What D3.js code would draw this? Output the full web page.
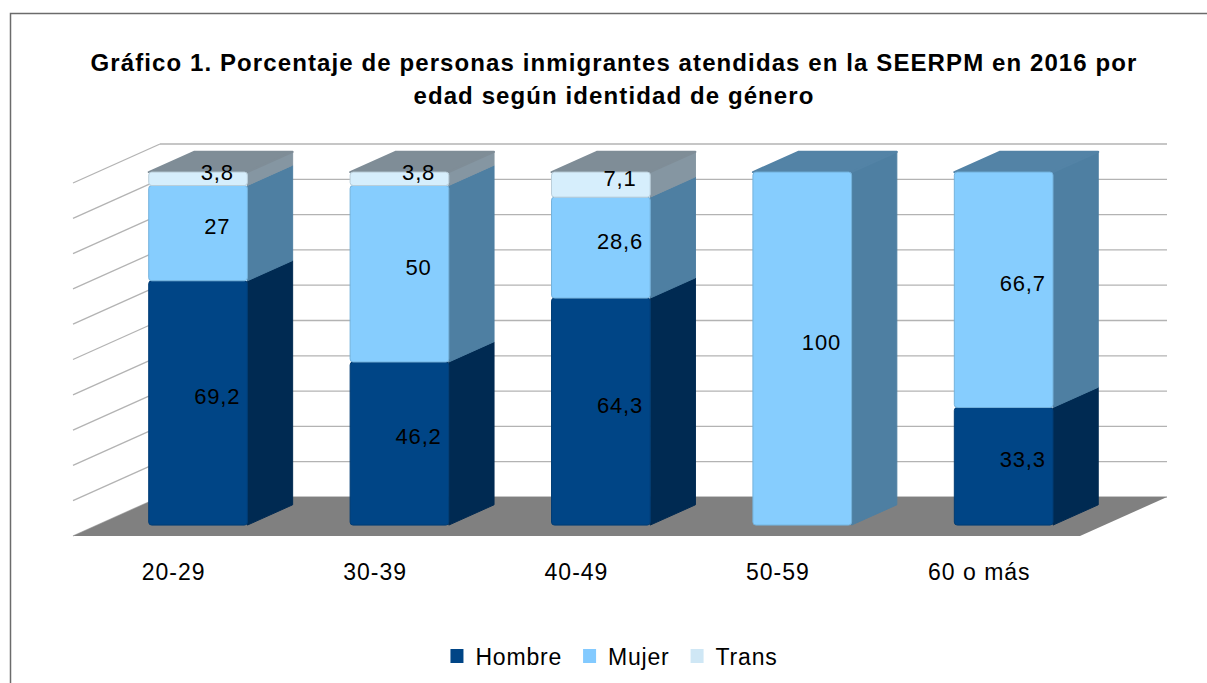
<!DOCTYPE html>
<html>
<head>
<meta charset="utf-8">
<script src="https://cdn.jsdelivr.net/npm/d3@7"></script>
<style>
  body { margin: 0; background: #fff; }
  svg { display: block; font-family: "Liberation Sans", Arial, sans-serif; }
</style>
</head>
<body>
<svg id="chart" width="1207" height="683"></svg>
<script>
const categories = ["20-29", "30-39", "40-49", "50-59", "60 o más"];
const series = ["Hombre", "Mujer", "Trans"];
const hombre = [69.2, 46.2, 64.3, 0, 33.3];
const mujer = [27, 50, 28.6, 100, 66.7];
const trans = [3.8, 3.8, 7.1, 0, 0];
const ticks = [0, 10, 20, 30, 40, 50, 60, 70, 80, 90, 100];

const colors = {
  Hombre: { front: "#004586", side: "#002a52", top: "#24557f", legend: "#004586" },
  Mujer: { front: "#86cdfe", side: "#4e7fa2", top: "#5383a6", legend: "#83caff" },
  Trans: { front: "#d6eefc", side: "#8596a2", top: "#7f8d97", legend: "#cfe7f5" }
};

const width = 1207, height = 683;
// floor front edge and depth offset of the 3d box
const floorLeft = 73, floorRight = 1080, floorFront = 536;
const depthX = 87, depthY = 39;
const zFront = 0.28, zBack = 0.80, zLabel = 0.5;

const svg = d3.select("#chart");

// frame
svg.append("path")
  .attr("d", `M10.5,${height} V13.5 H${width}`)
  .attr("fill", "none")
  .attr("stroke", "#6b6b6b")
  .attr("stroke-width", 1.5);

// title
const title = svg.append("text")
  .attr("text-anchor", "middle")
  .attr("font-weight", "bold")
  .attr("font-size", 24)
  .attr("letter-spacing", 1.1)
  .attr("fill", "#000");
title.append("tspan").attr("x", 614).attr("y", 71)
  .text("Gráfico 1. Porcentaje de personas inmigrantes atendidas en la SEERPM en 2016 por");
title.append("tspan").attr("x", 614).attr("y", 104)
  .text("edad según identidad de género");

const x = d3.scaleBand().domain(categories).range([floorLeft, floorRight]).padding(0);
const y = d3.scaleLinear().domain([0, 100]).range([floorFront, floorFront - 353]);

const proj = (sx, v, z) => [sx + z * depthX, y(v) - z * depthY];

// back wall grid
const grid = svg.append("g").attr("stroke", "#b3b3b3").attr("stroke-width", 1.3);
grid.selectAll("line.back")
  .data(ticks)
  .join("line")
  .attr("class", "back")
  .attr("x1", floorLeft + depthX).attr("x2", floorRight + depthX)
  .attr("y1", d => y(d) - depthY).attr("y2", d => y(d) - depthY);
// left wall grid
grid.selectAll("line.side")
  .data(ticks)
  .join("line")
  .attr("class", "side")
  .attr("x1", floorLeft).attr("y1", d => y(d))
  .attr("x2", floorLeft + depthX).attr("y2", d => y(d) - depthY);

// floor
const floorPts = [proj(floorLeft, 0, 0), proj(floorRight, 0, 0), proj(floorRight, 0, 1), proj(floorLeft, 0, 1)];
svg.append("polygon")
  .attr("points", floorPts.map(p => p.join(",")).join(" "))
  .attr("fill", "#808080");

// stacked data
const rows = categories.map((c, i) => ({ cat: c, Hombre: hombre[i], Mujer: mujer[i], Trans: trans[i] }));
const stacked = d3.stack().keys(series)(rows);

const barW = x.bandwidth() * 0.49;
const bars = svg.append("g");

categories.forEach((c, i) => {
  const x0 = x(c) + (x.bandwidth() - barW) / 2;
  const x1 = x0 + barW;
  const segs = series.map((s, k) => ({ s, v0: stacked[k][i][0], v1: stacked[k][i][1] }))
    .filter(d => d.v1 - d.v0 > 0);
  const g = bars.append("g");
  segs.forEach((d, j) => {
    const col = colors[d.s];
    // side face
    const side = [proj(x1, d.v0, zFront), proj(x1, d.v0, zBack), proj(x1, d.v1, zBack), proj(x1, d.v1, zFront)];
    g.append("polygon")
      .attr("points", side.map(p => p.join(",")).join(" "))
      .attr("fill", col.side)
      .attr("stroke", col.side)
      .attr("stroke-width", 1)
      .attr("stroke-linejoin", "round");
    // top face only for the last segment
    if (j === segs.length - 1) {
      const top = [proj(x0, d.v1, zFront), proj(x1, d.v1, zFront), proj(x1, d.v1, zBack), proj(x0, d.v1, zBack)];
      g.append("polygon")
        .attr("points", top.map(p => p.join(",")).join(" "))
        .attr("fill", col.top)
        .attr("stroke", col.top)
        .attr("stroke-width", 2)
        .attr("stroke-linejoin", "round");
    }
    // front face
    const a = proj(x0, d.v1, zFront), b = proj(x1, d.v0, zFront);
    g.append("rect")
      .attr("x", a[0]).attr("y", a[1])
      .attr("width", b[0] - a[0]).attr("height", b[1] - a[1])
      .attr("rx", 3)
      .attr("fill", col.front)
      .attr("stroke", d3.color(col.front).darker(0.4))
      .attr("stroke-width", 1);
  });
  // value labels
  segs.forEach(d => {
    const p = proj((x0 + x1) / 2, (d.v0 + d.v1) / 2, zLabel);
    g.append("text")
      .attr("x", p[0]).attr("y", p[1] + 2)
      .attr("text-anchor", "middle")
      .attr("dominant-baseline", "central")
      .attr("font-size", 22)
      .attr("letter-spacing", 0.8)
      .attr("fill", "#000")
      .text(String(d3.format(".1~f")(d.v1 - d.v0)).replace(".", ","));
  });
});

// category labels
svg.append("g").selectAll("text")
  .data(categories)
  .join("text")
  .attr("x", d => x(d) + x.bandwidth() / 2)
  .attr("y", 580)
  .attr("text-anchor", "middle")
  .attr("font-size", 23)
  .attr("letter-spacing", 1)
  .attr("fill", "#000")
  .text(d => d);

// legend
const legend = svg.append("g");
let lx = 0;
series.forEach(s => {
  const item = legend.append("g").attr("transform", `translate(${lx},0)`);
  item.append("rect").attr("x", 0).attr("y", 649).attr("width", 13).attr("height", 14)
    .attr("fill", colors[s].legend);
  const t = item.append("text").attr("x", 25).attr("y", 665)
    .attr("font-size", 23).attr("letter-spacing", 0.8).attr("fill", "#000").text(s);
  lx += 25 + t.node().getComputedTextLength() + 21;
});
const legW = lx - 21;
legend.attr("transform", `translate(${614 - legW / 2},0)`);
</script>
</body>
</html>
